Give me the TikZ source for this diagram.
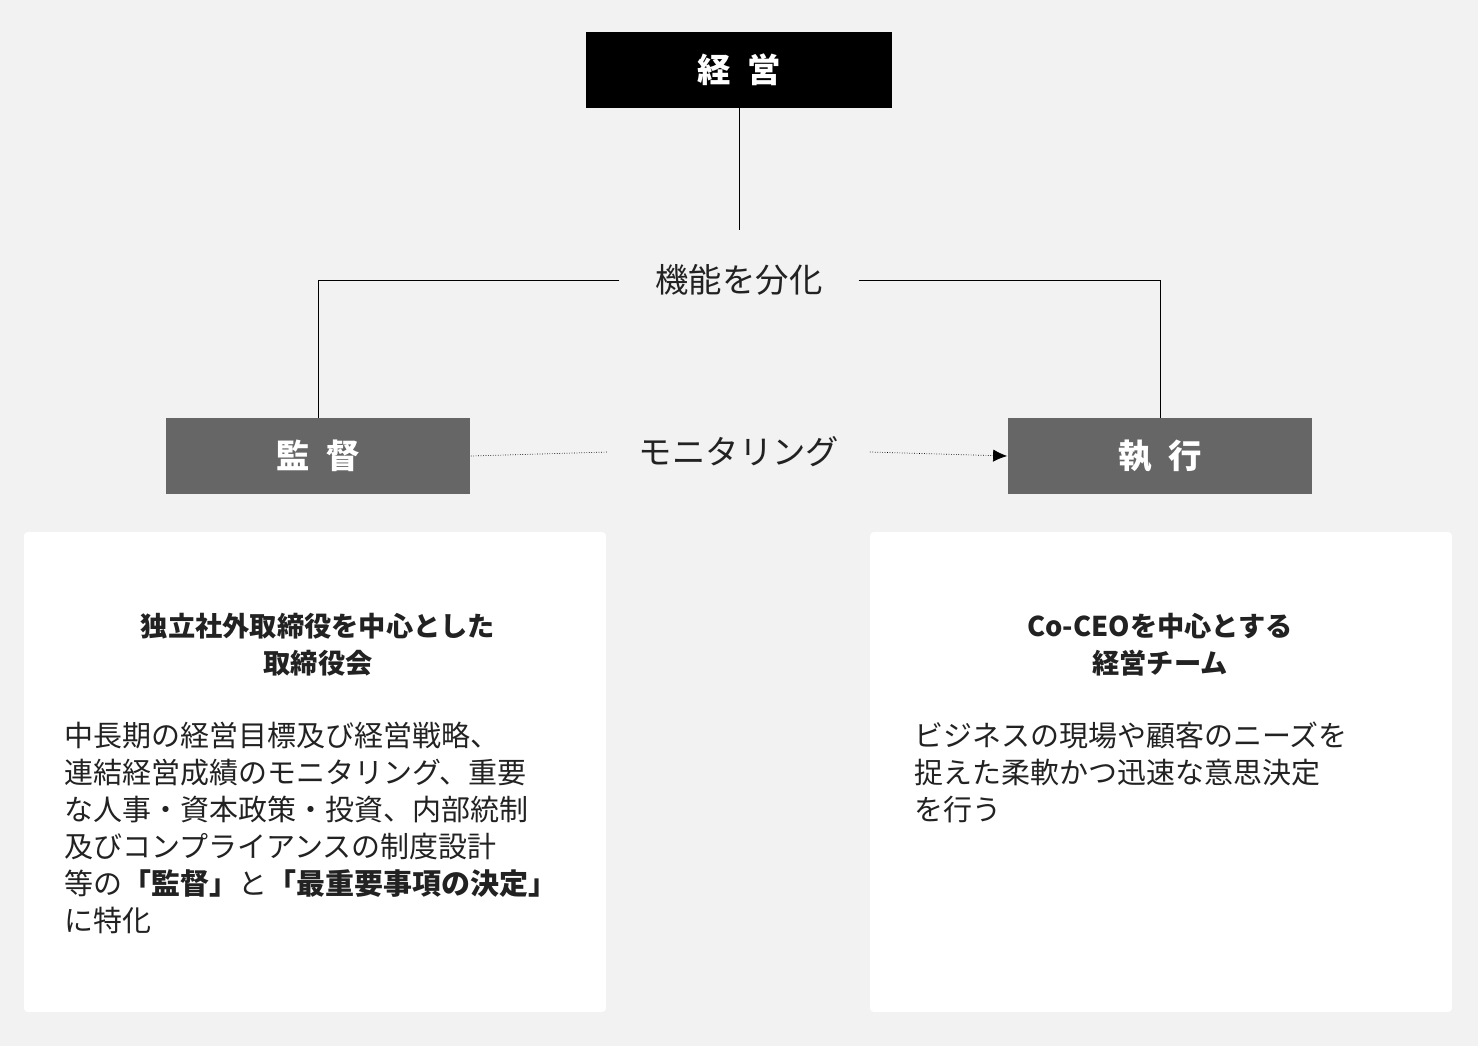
\documentclass[tikz,border=0pt]{standalone}
\usepackage{fontspec}
\setmainfont{Noto Sans CJK JP}
\usetikzlibrary{positioning,arrows.meta}
\definecolor{bggray}{HTML}{F2F2F2}
\definecolor{boxgray}{HTML}{666666}
\definecolor{txt}{HTML}{222222}

\tikzstyle{topbox} = [rectangle, minimum width=6.12cm, minimum height=1.52cm, text centered, fill=black, text=white, font=\fontsize{19}{22}\selectfont\bfseries]
\tikzstyle{rolebox} = [rectangle, minimum width=6.1cm, minimum height=1.52cm, text centered, fill=boxgray, text=white, font=\fontsize{19}{22}\selectfont\bfseries]
\tikzstyle{panel} = [rectangle, rounded corners=2pt, minimum width=11.64cm, minimum height=9.6cm, fill=white]
\tikzstyle{lbl} = [text=txt, font=\fontsize{19}{22}\selectfont]
\tikzstyle{ttl} = [text=txt, align=center, font=\fontsize{15.5}{21}\selectfont\bfseries]
\tikzstyle{body} = [text=txt, align=left, anchor=north west, inner sep=0pt, font=\fontsize{16.5}{21}\selectfont]

\begin{document}
\begin{tikzpicture}[x=0.02cm, y=-0.02cm]
            \fill [bggray] (0,0) rectangle (1478,1046);
            \useasboundingbox (0,0) rectangle (1478,1046);
            \node (keiei) [topbox] at (739,70) {経\hspace{0.5em}営};
            \coordinate (split) at (739,230);
            \node (bunka) [lbl] at (739,280) {機能を分化};
            \coordinate (lcorner) at (318,280);
            \coordinate (rcorner) at (1160,280);
            \node (kansa) [rolebox] at (318,456) {監\hspace{0.5em}督};
            \node (shikko) [rolebox] at (1160,456) {執\hspace{0.5em}行};
            \node (monitor) [lbl] at (739,452) {モニタリング};
            \node (lpanel) [panel] at (315,772) {};
            \node (rpanel) [panel] at (1161,772) {};
            \node (ltitle) [ttl] at (318,645) {独立社外取締役を中心とした\\取締役会};
            \node (rtitle) [ttl] at (1160,645) {Co-CEOを中心とする\\経営チーム};
            \node (lbody) [body] at (64,722) {中長期の経営目標及び経営戦略、\\連結経営成績のモニタリング、重要\\な人事・資本政策・投資、内部統制\\及びコンプライアンスの制度設計\\等の\textbf{「監督」}と\textbf{「最重要事項の決定」}\\に特化};
            \node (rbody) [body] at (914,722) {ビジネスの現場や顧客のニーズを\\捉えた柔軟かつ迅速な意思決定\\を行う};

            \draw [black] (keiei) -- (split);
            \draw [black] (bunka.west) ++(-30,0) -- (lcorner) -- (kansa.north);
            \draw [black] (bunka.east) ++(30,0) -- (rcorner) -- (shikko.north);
            \draw [black, densely dotted] (kansa.east) -- ([xshift=-14]monitor.west);
            \draw [black, densely dotted, -{Latex[length=8pt,width=7pt]}] ([xshift=14]monitor.east) -- (shikko.west);
        \end{tikzpicture}
\end{document}
